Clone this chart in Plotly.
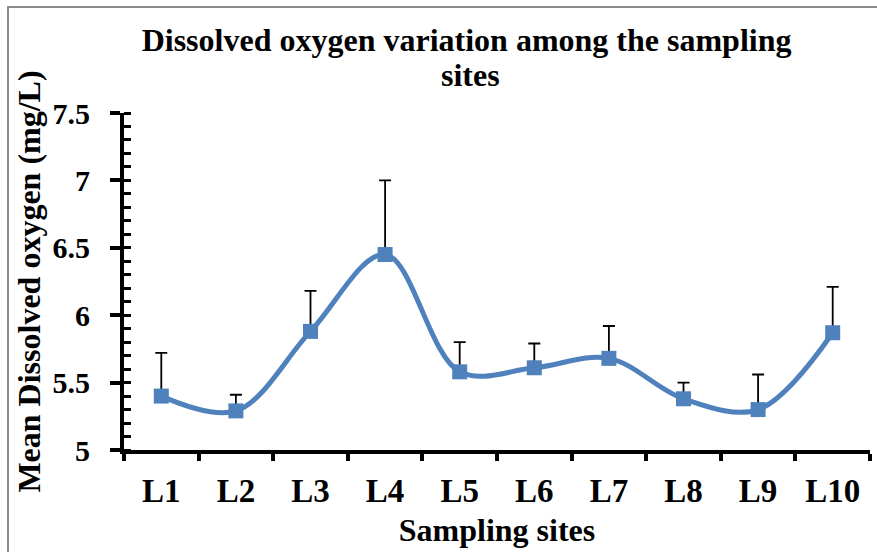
import plotly.graph_objects as go

sites = ["L1", "L2", "L3", "L4", "L5", "L6", "L7", "L8", "L9", "L10"]
mean_do = [5.40, 5.29, 5.88, 6.45, 5.58, 5.61, 5.68, 5.38, 5.30, 5.87]
sd_do = [0.32, 0.12, 0.30, 0.55, 0.22, 0.18, 0.24, 0.12, 0.26, 0.34]
y_ticks = [5, 5.5, 6, 6.5, 7, 7.5]
y_ticklabels = ["5", "5.5", "6", "6.5", "7", "7.5"]

BLUE = "#4F81BD"
FONT = "Liberation Serif"

fig = go.Figure()
fig.add_trace(go.Scatter(
    x=sites, y=mean_do,
    mode="lines+markers",
    line=dict(color=BLUE, width=5, shape="spline", smoothing=1.0),
    marker=dict(symbol="square", size=15, color=BLUE),
    error_y=dict(type="data", array=sd_do, arrayminus=[0] * len(sd_do),
                 symmetric=False, color="black", thickness=1.8, width=6),
    showlegend=False,
))

fig.update_layout(
    width=877, height=552,
    margin=dict(l=124, r=7, t=113, b=102, autoexpand=False),
    paper_bgcolor="white", plot_bgcolor="white",
    font=dict(family=FONT, color="black"),
    title=dict(text="<b>Dissolved oxygen variation among the sampling</b>",
               x=0.532, xanchor="center", y=0.907, yanchor="bottom",
               font=dict(size=32, family=FONT, color="black")),
    annotations=[dict(text="<b>sites</b>", xref="paper", yref="paper",
                      x=0.465, y=1.053, xanchor="center", yanchor="bottom",
                      showarrow=False, font=dict(size=32, family=FONT, color="black"))],
    shapes=[dict(type="rect", xref="paper", yref="paper",
                 x0=-0.1555, x1=1.2, y0=-0.6, y1=1.3145,
                 line=dict(color="#8c8c8c", width=2), layer="below")],
)

fig.update_xaxes(
    type="category", range=[-0.5, 9.5], automargin=False,
    showline=True, linecolor="black", linewidth=4,
    ticks="outside", ticklen=7, tickwidth=4, tickcolor="black",
    tickson="boundaries", ticklabelstandoff=8,
    tickvals=sites, ticktext=["<b>%s</b>" % s for s in sites],
    tickfont=dict(size=33, family=FONT, color="black"),
    showgrid=False, zeroline=False,
    title=dict(text="<b>Sampling sites</b>", standoff=12,
               font=dict(size=32, family=FONT, color="black")),
)
fig.update_yaxes(
    range=[5, 7.5], automargin=False,
    tickvals=y_ticks, ticktext=["<b>%s</b>" % t for t in y_ticklabels],
    showline=True, linecolor="black", linewidth=4,
    ticks="outside", ticklen=10, tickwidth=4, tickcolor="black",
    minor=dict(dtick=0.1, ticks="inside", ticklen=7, tickwidth=3, tickcolor="black", showgrid=False),
    ticklabelstandoff=14,
    tickfont=dict(size=30, family=FONT, color="black"),
    showgrid=False, zeroline=False,
    title=dict(text="<b>Mean Dissolved oxygen (mg/L)</b>", standoff=3,
               font=dict(size=32, family=FONT, color="black")),
)

fig.write_html("out.html", config={"displayModeBar": False},
               post_script="document.body.style.margin='0';document.body.style.padding='0';")
